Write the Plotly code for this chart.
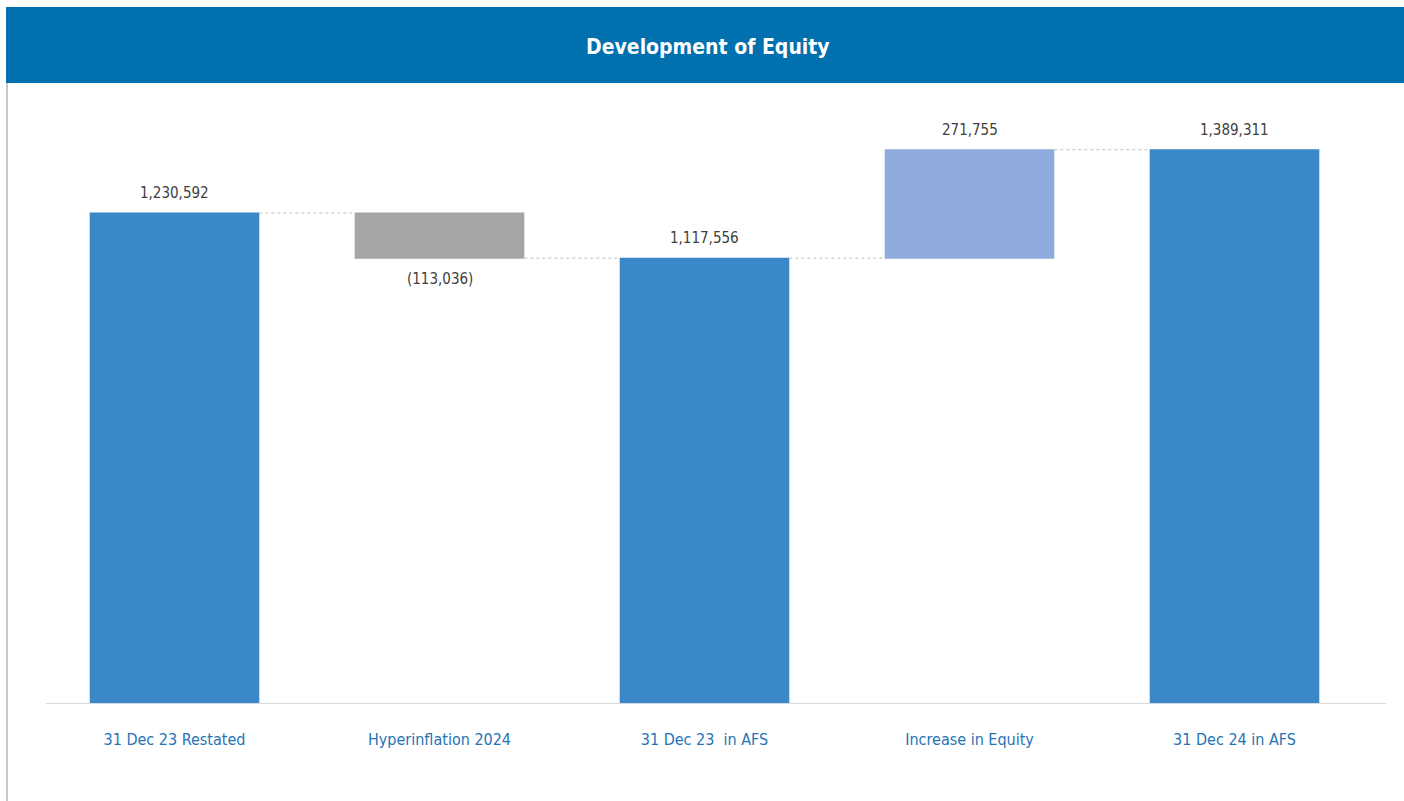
import plotly.graph_objects as go

categories = ["31 Dec 23 Restated", "Hyperinflation 2024", "31 Dec 23  in AFS", "Increase in Equity", "31 Dec 24 in AFS"]
values = [1230592, -113036, 1117556, 271755, 1389311]
measures = ["absolute", "relative", "total", "relative", "total"]
title_text = "Development of Equity"

def fmt(v):
    return f"({abs(v):,})" if v < 0 else f"{v:,}"

labels = [fmt(v) for v in values]

# running level at the end of each bar (where each label sits)
levels = []
running = 0
for v, m in zip(values, measures):
    if m == "absolute":
        running = v
    elif m == "relative":
        running += v
    levels.append(running)

FONT = "Liberation Sans Narrow, DejaVu Sans Condensed, Arial Narrow, sans-serif"

W, H = 1404, 801
ml, mr, mt, mb = 42, 37, 100, 97
pw = W - ml - mr
ph = H - mt - mb

def px_x(x):
    return (x - ml) / pw

def px_y(y):
    return (H - mb - y) / ph

fig = go.Figure(go.Waterfall(
    x=categories,
    y=values,
    measure=measures,
    totals=dict(marker=dict(color="#3A88C7", line=dict(width=0))),
    decreasing=dict(marker=dict(color="#A5A5A5", line=dict(width=0))),
    increasing=dict(marker=dict(color="#8FAADC", line=dict(width=0))),
    connector=dict(line=dict(color="#BFBFBF", width=1, dash="dot")),
    hoverinfo="skip",
))

annotations = []
for cat, lab, lev, v in zip(categories, labels, levels, values):
    annotations.append(dict(
        x=cat, y=lev, xref="x", yref="y", text=lab, showarrow=False,
        xanchor="center", yanchor="middle",
        yshift=(-21 if v < 0 else 20),
        font=dict(family=FONT, size=15, color="#404040"),
    ))

annotations.append(dict(
    text="<b>" + title_text + "</b>", xref="paper", yref="paper",
    x=px_x(708), y=px_y(47), showarrow=False,
    xanchor="center", yanchor="middle",
    font=dict(family=FONT, size=21, color="white"),
))

fig.update_layout(
    width=W, height=H,
    margin=dict(l=ml, r=mr, t=mt, b=mb),
    paper_bgcolor="white",
    plot_bgcolor="white",
    showlegend=False,
    waterfallgap=0.36,
    xaxis=dict(
        showgrid=False, showline=False, zeroline=False,
        tickfont=dict(family=FONT, size=16, color="#2773B5"),
        ticks="", ticklabelstandoff=24,
    ),
    yaxis=dict(
        range=[0, 1514000], showgrid=False, zeroline=False,
        showline=False, showticklabels=False, ticks="",
    ),
    shapes=[
        dict(type="rect", xref="paper", yref="paper",
             x0=px_x(6), x1=px_x(1404), y0=px_y(83), y1=px_y(7),
             fillcolor="#0070AE", line=dict(width=0), layer="below"),
        dict(type="line", xref="paper", yref="paper",
             x0=px_x(7), x1=px_x(7), y0=px_y(801), y1=px_y(83),
             line=dict(color="#C8C8C8", width=2)),
        dict(type="line", xref="paper", yref="y",
             x0=px_x(46), x1=px_x(1386), y0=0, y1=0,
             line=dict(color="#D9D9D9", width=2), layer="above"),
    ],
    annotations=annotations,
)

fig.write_html("out.html", config={"displayModeBar": False},
               post_script="document.body.style.margin='0px';")
